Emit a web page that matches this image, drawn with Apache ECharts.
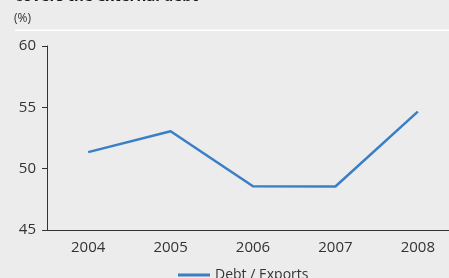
<!DOCTYPE html>
<html>
<head>
<meta charset="utf-8">
<script src="https://cdn.jsdelivr.net/npm/echarts@6/dist/echarts.min.js"></script>
<style>
  html, body { margin: 0; padding: 0; background: #ececec; overflow: hidden; }
  #chart { width: 459px; height: 278px; }
</style>
</head>
<body>
<div id="chart"></div>
<script>
const years = ['2004', '2005', '2006', '2007', '2008'];
const debtExports = [51.35, 53.05, 48.56, 48.55, 54.65];
const seriesName = 'Debt / Exports';

const chart = echarts.init(document.getElementById('chart'));
const font = '"Open Sans", "Noto Sans", sans-serif';

chart.setOption({
  backgroundColor: '#ececec',
  animation: false,
  textStyle: { fontFamily: font },
  title: {
    text: 'covers the external debt',
    left: 10,
    top: -16,
    textStyle: { fontSize: 15, fontWeight: 'bold', color: '#1a1a1a', fontFamily: font }
  },
  graphic: [
    {
      type: 'text',
      left: 14,
      top: 13,
      style: { text: '(%)', fontSize: 12, fill: '#333', fontFamily: font }
    },
    {
      type: 'rect',
      shape: { x: 15, y: 29.5, width: 444, height: 1.5 },
      style: { fill: '#ffffff' }
    }
  ],
  legend: {
    top: 263,
    left: 173,
    itemWidth: 32,
    itemHeight: 3,
    itemGap: 8,
    icon: 'rect',
    textStyle: { fontSize: 14, color: '#333', fontFamily: font },
    data: [seriesName]
  },
  grid: { left: 47, right: 0, top: 46, bottom: 48 },
  xAxis: {
    type: 'category',
    data: years,
    boundaryGap: true,
    axisLine: { lineStyle: { color: '#333', width: 1 } },
    axisTick: { show: false },
    axisLabel: { color: '#333', fontSize: 15, margin: 10, fontFamily: font }
  },
  yAxis: {
    type: 'value',
    min: 45,
    max: 60,
    interval: 5,
    axisLine: { show: true, lineStyle: { color: '#333', width: 1 } },
    axisTick: { show: true, length: 5, lineStyle: { color: '#333' } },
    splitLine: { show: false },
    axisLabel: { color: '#333', fontSize: 15, margin: 11, fontFamily: font }
  },
  series: [{
    name: seriesName,
    type: 'line',
    data: debtExports,
    symbol: 'none',
    lineStyle: { color: '#3a7fc6', width: 2.5 },
    itemStyle: { color: '#3a7fc6' }
  }]
});
</script>
</body>
</html>
